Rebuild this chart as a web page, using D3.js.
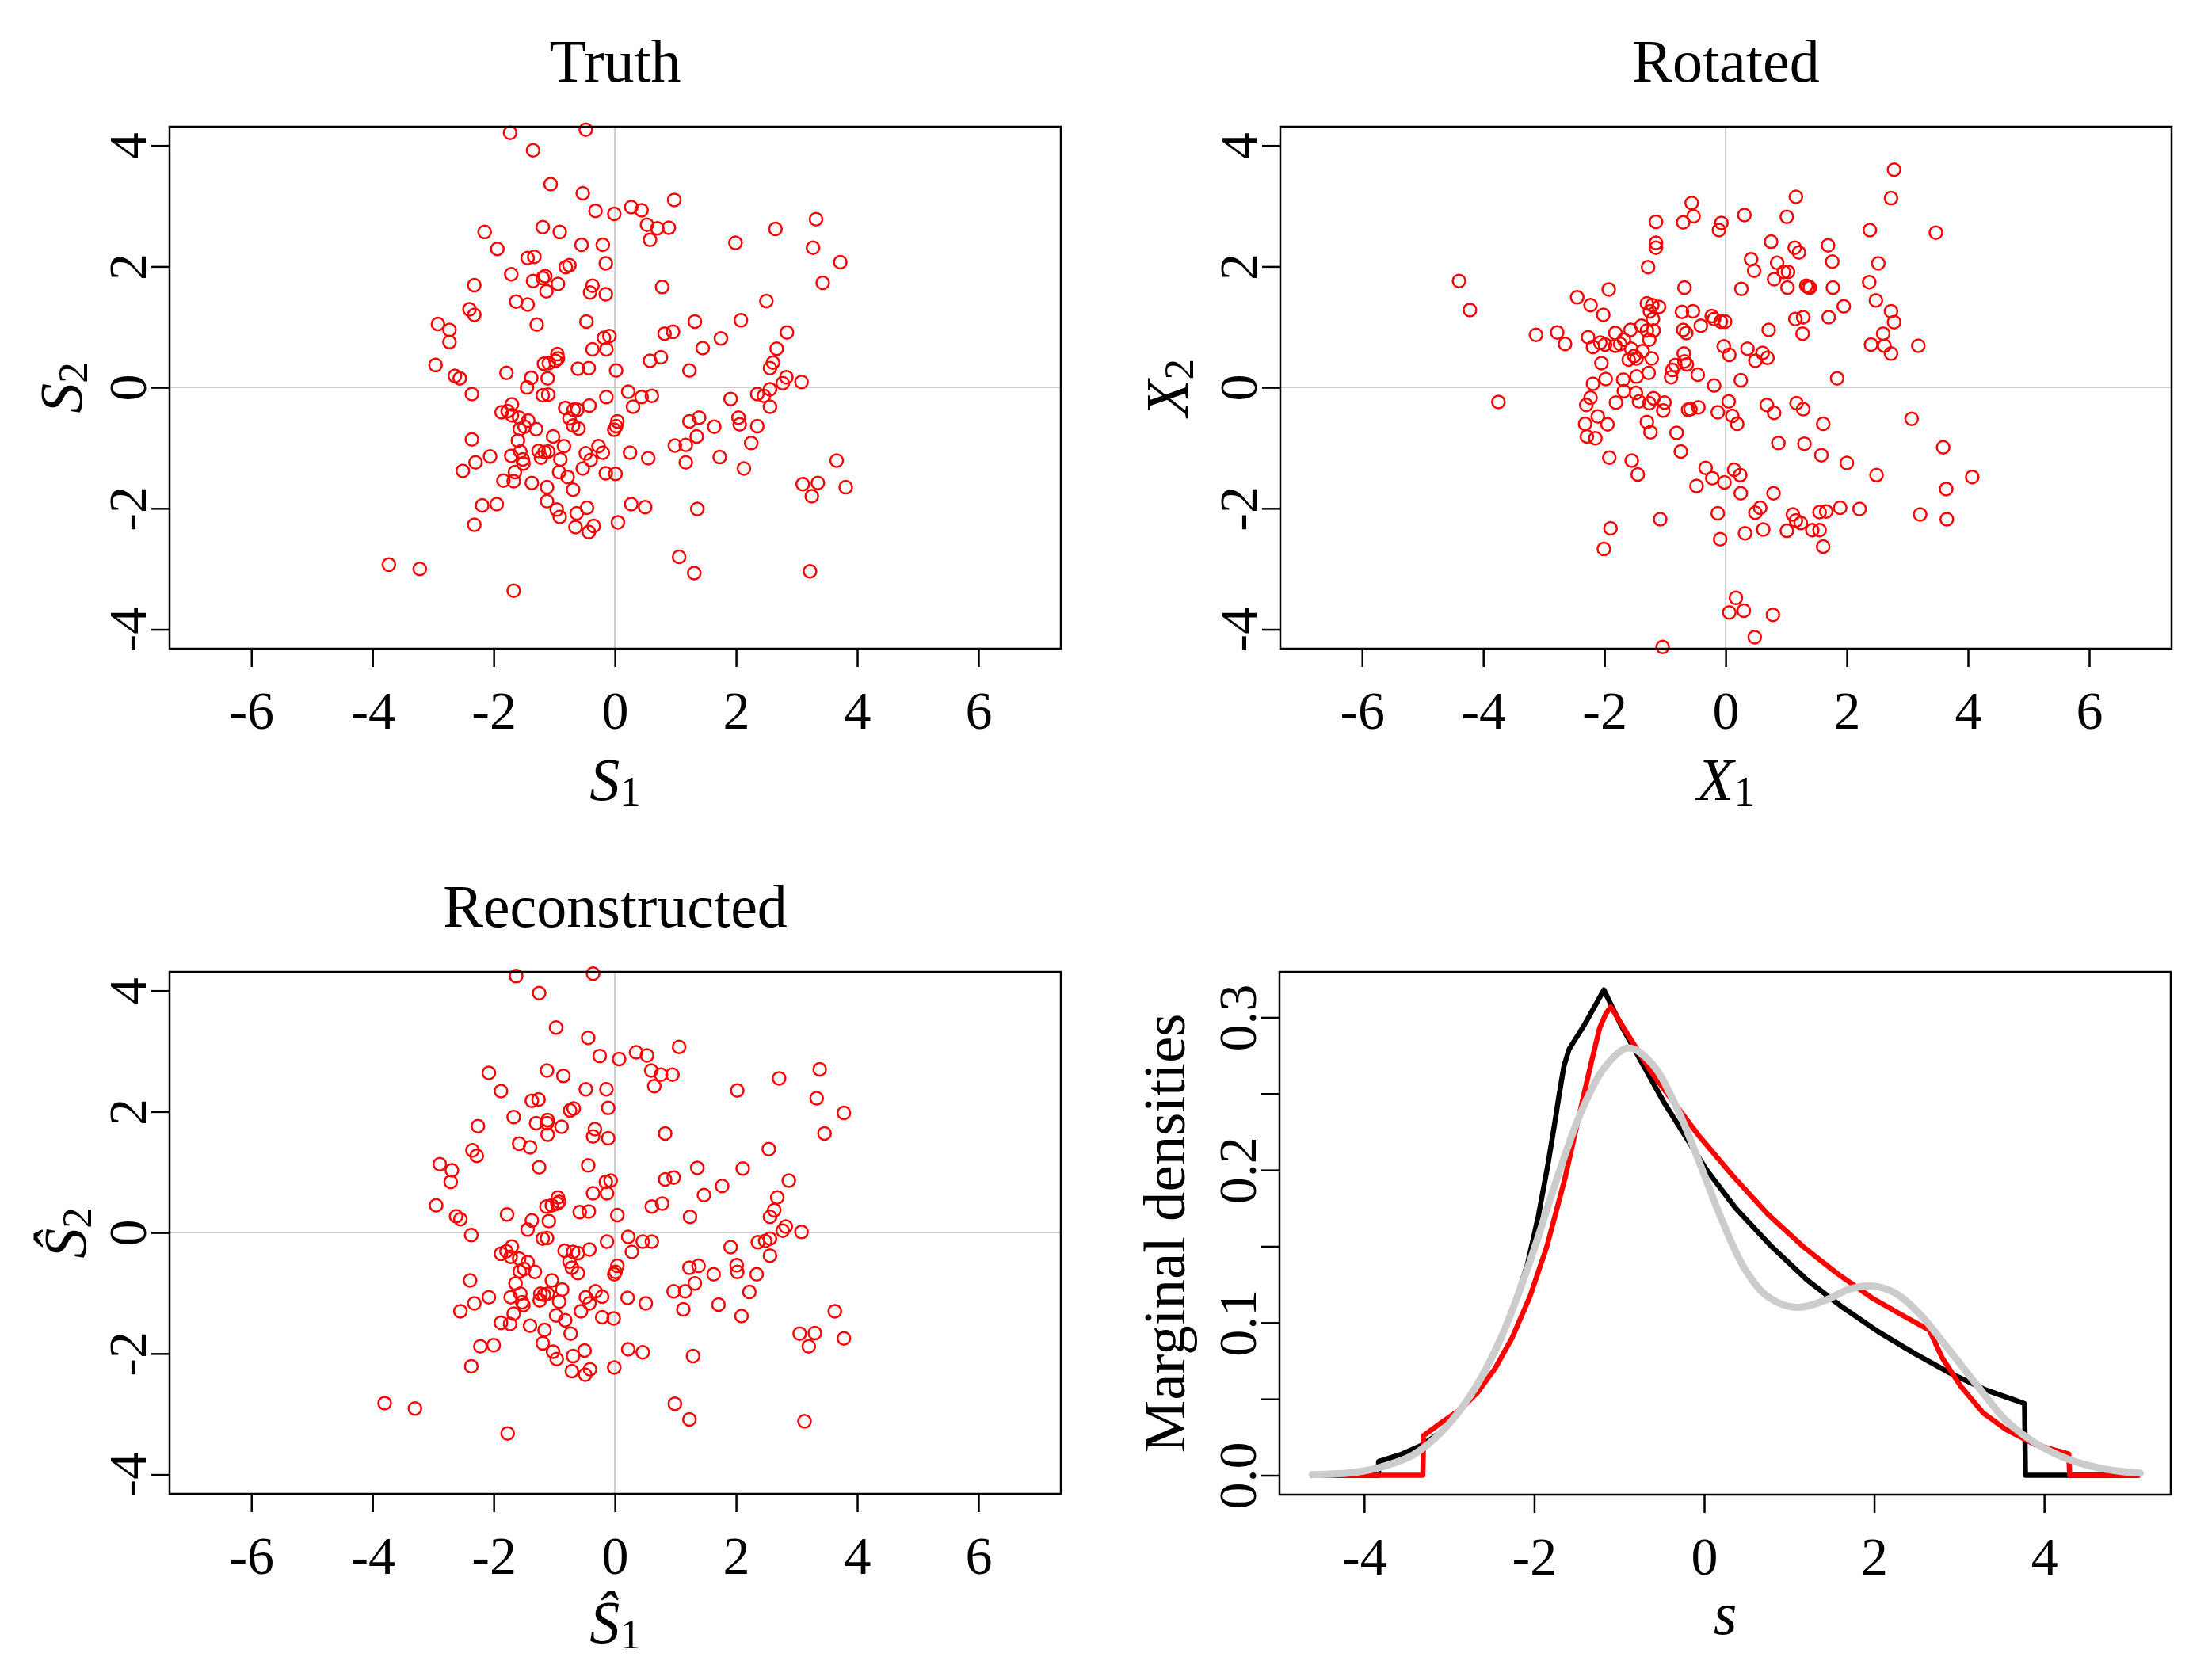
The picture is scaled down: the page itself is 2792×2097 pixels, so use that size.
<!DOCTYPE html>
<html lang="en">
<head>
<meta charset="UTF-8">
<title>Truth / Rotated / Reconstructed</title>
<script src="https://d3js.org/d3.v7.min.js"></script>
<style>
  body { margin: 0; background: #fff; }
  svg text { font-family: "Liberation Serif", "DejaVu Serif", serif; fill: #000; }
  .box { fill: none; stroke: #000; stroke-width: 2.5px; }
  .grid { stroke: #cccccc; stroke-width: 2px; }
  .pt { fill: none; stroke: #ff0000; stroke-width: 2.5px; }
  .axis path { display: none; }
  .axis line { stroke: #000; stroke-width: 2.5px; }
  .axis text { font-size: 68px; font-family: "Liberation Serif", serif; }
</style>
</head>
<body>
<svg id="chart" width="2792" height="2097"></svg>
<script>
// ---- data ----
const truthS1 = [-1.73,-0.48,-1.35,-1.06,-0.53,0.98,-0.32,-0.01,0.27,0.44,3.32,0.53,0.70,0.89,2.65,-2.15,-1.19,-0.91,0.58,1.99,-0.55,-0.20,-1.94,3.27,-1.44,-1.33,-0.15,3.72,-0.81,-0.75,-1.71,-1.19,-1.35,-1.15,-0.94,-0.37,-2.32,0.78,3.43,-1.13,-0.41,-0.15,-1.63,-1.44,2.50,-2.40,-2.32,-1.29,-0.47,1.32,2.08,-2.92,-2.73,-2.73,0.82,0.96,2.84,-0.18,-0.09,1.75,1.45,-0.37,-0.14,2.67,-0.95,-0.94,-0.98,-1.09,-1.17,0.58,0.76,2.61,-2.96,-0.61,-0.43,0.02,1.23,2.56,-2.64,-2.56,-1.79,-1.38,-1.11,2.83,2.77,3.08,-1.45,2.56,-2.36,-1.19,-1.10,-0.14,0.22,0.44,0.61,2.35,2.46,1.91,-1.70,-0.42,0.30,2.56,-1.87,-1.77,-1.70,-0.82,-0.68,-0.62,-1.58,-1.43,-0.75,0.04,1.23,1.39,2.04,2.06,-1.57,-1.49,-1.30,-0.69,-0.60,-0.01,0.02,1.64,2.35,-2.36,-1.60,-1.02,1.35,-0.84,-0.27,0.99,1.17,2.25,-2.06,-1.71,-1.56,-1.26,-1.16,-1.10,-1.52,-1.22,-0.90,-0.48,-0.40,-0.20,0.25,0.55,1.73,3.66,-2.30,-1.51,1.17,-2.51,-1.65,-0.92,-0.53,-0.15,0.01,2.13,-1.84,-1.67,-1.37,-0.78,3.10,3.35,3.81,-1.12,-0.69,3.25,-2.19,-1.95,-1.12,0.27,0.50,-0.46,1.36,-0.96,-0.63,-0.91,-2.32,-0.65,-0.35,-0.43,0.05,1.06,1.31,3.22,-3.73,-3.22,-1.67];
const truthS2 = [4.21,4.26,3.92,3.36,3.21,3.10,2.92,2.87,2.98,2.93,2.78,2.69,2.63,2.64,2.62,2.57,2.65,2.57,2.44,2.39,2.36,2.36,2.29,2.31,2.14,2.16,2.05,2.07,1.99,2.02,1.87,1.81,1.76,1.84,1.71,1.68,1.69,1.66,1.73,1.59,1.57,1.54,1.42,1.37,1.43,1.29,1.20,1.04,1.09,1.09,1.11,1.05,0.95,0.75,0.89,0.92,0.91,0.82,0.85,0.81,0.65,0.63,0.63,0.64,0.55,0.48,0.44,0.40,0.39,0.44,0.50,0.41,0.37,0.31,0.32,0.28,0.28,0.32,0.19,0.15,0.24,0.16,0.15,0.17,0.07,0.09,0.00,-0.03,-0.11,-0.13,-0.12,-0.16,-0.07,-0.16,-0.14,-0.11,-0.14,-0.19,-0.28,-0.30,-0.32,-0.32,-0.41,-0.39,-0.46,-0.34,-0.37,-0.37,-0.50,-0.55,-0.51,-0.56,-0.56,-0.50,-0.50,-0.61,-0.69,-0.65,-0.69,-0.63,-0.68,-0.70,-0.64,-0.65,-0.64,-0.86,-0.88,-0.81,-0.81,-0.97,-0.97,-0.96,-0.95,-0.92,-1.14,-1.13,-1.06,-1.05,-1.07,-1.06,-1.19,-1.16,-1.19,-1.09,-1.20,-1.08,-1.08,-1.17,-1.15,-1.21,-1.24,-1.26,-1.24,-1.38,-1.40,-1.40,-1.34,-1.42,-1.43,-1.34,-1.54,-1.55,-1.58,-1.48,-1.60,-1.58,-1.65,-1.65,-1.69,-1.80,-1.95,-1.93,-1.88,-1.93,-1.98,-1.99,-2.01,-2.02,-2.08,-2.14,-2.27,-2.31,-2.29,-2.39,-2.23,-2.80,-3.07,-3.04,-2.93,-3.00,-3.36];

const rotX1 = [2.78,1.16,2.73,-0.56,-0.53,0.31,1.01,-1.15,-0.70,-0.07,-0.11,2.38,3.47,0.75,-1.15,-1.15,1.14,1.21,1.69,0.42,0.47,1.76,2.52,0.85,-1.28,0.96,1.03,0.80,1.02,-4.40,2.37,1.33,1.36,1.39,1.77,0.26,-0.68,-1.93,-4.22,-2.45,-2.23,-2.02,1.95,2.48,2.73,2.78,-1.30,-1.21,-1.10,-1.25,-1.20,-0.72,-0.54,-0.23,-0.19,-0.08,-0.01,-0.41,1.15,1.28,1.70,1.27,0.71,2.60,2.40,2.62,2.73,3.18,-3.13,-2.78,-2.65,-2.27,-2.19,-2.07,-1.99,-1.82,-1.82,-1.74,-1.68,-1.57,-1.39,-1.30,-1.19,-1.26,-1.56,-1.37,-1.60,-1.51,-1.47,-1.22,-0.70,-0.65,-0.69,-0.68,-0.64,-0.83,-0.88,-0.90,-0.46,-0.03,0.06,0.36,0.61,0.69,0.49,0.25,1.84,-2.05,-1.98,-2.19,-1.69,-1.47,-1.27,-0.19,-3.75,-2.23,-2.30,-1.81,-1.68,-1.48,-1.43,-1.26,-1.19,-1.01,-1.03,-0.62,-0.58,-0.45,-0.13,0.05,0.11,0.19,0.68,0.80,1.17,1.28,1.61,3.07,-2.32,-2.11,-1.95,-2.29,-2.15,-1.30,-1.24,-0.81,-0.74,0.87,1.30,1.58,2.00,2.49,3.59,4.07,3.64,3.21,3.65,-1.92,-1.55,-1.45,-0.33,-0.22,-0.02,-0.48,0.14,0.24,0.25,0.79,0.57,0.49,-0.13,-1.08,-1.90,-2.01,-0.09,0.32,0.62,1.01,1.11,1.16,1.24,1.43,1.55,1.61,1.55,1.66,1.89,2.21,0.17,0.06,0.30,0.78,0.48,-1.04];
const rotX2 = [3.60,3.15,3.13,3.05,2.83,2.85,2.82,2.74,2.73,2.72,2.60,2.60,2.56,2.41,2.39,2.31,2.31,2.23,2.35,2.12,1.93,2.08,2.05,2.06,1.99,1.91,1.91,1.79,1.65,1.76,1.74,1.68,1.66,1.65,1.65,1.63,1.65,1.62,1.28,1.49,1.36,1.20,1.34,1.44,1.26,1.08,1.39,1.36,1.33,1.26,1.13,1.25,1.26,1.18,1.13,1.09,1.09,1.02,1.13,1.16,1.16,0.89,0.95,0.89,0.71,0.69,0.56,0.69,0.87,0.91,0.72,0.83,0.67,0.74,0.71,0.90,0.69,0.72,0.79,0.95,1.02,0.94,0.94,0.79,0.64,0.60,0.46,0.52,0.48,0.48,0.95,0.90,0.56,0.43,0.38,0.37,0.29,0.17,0.21,0.68,0.54,0.64,0.57,0.49,0.44,0.12,0.15,0.40,0.14,0.06,0.13,0.18,0.24,0.03,-0.24,-0.17,-0.29,-0.25,-0.06,-0.09,-0.23,-0.26,-0.18,-0.25,-0.38,-0.37,-0.36,-0.33,-0.41,-0.23,-0.47,-0.60,-0.29,-0.42,-0.26,-0.36,-0.60,-0.52,-0.60,-0.48,-0.61,-0.81,-0.84,-0.57,-0.74,-0.75,-1.06,-0.92,-0.93,-1.12,-1.25,-1.45,-0.99,-1.48,-1.68,-2.10,-2.18,-1.16,-1.21,-1.44,-1.33,-1.50,-1.57,-1.63,-1.36,-1.45,-1.75,-1.75,-1.99,-2.07,-2.08,-2.18,-2.33,-2.67,-2.51,-2.41,-2.35,-2.37,-2.10,-2.20,-2.24,-2.36,-2.36,-2.63,-2.06,-2.05,-1.99,-2.01,-3.48,-3.72,-3.69,-3.76,-4.13,-4.29];

const recS1 = [-1.63,-0.36,-1.25,-0.97,-0.44,1.06,-0.25,0.07,0.35,0.53,3.38,0.60,0.76,0.95,2.71,-2.08,-1.12,-0.85,0.65,2.02,-0.48,-0.14,-1.88,3.33,-1.37,-1.26,-0.11,3.78,-0.74,-0.68,-1.67,-1.12,-1.30,-1.11,-0.88,-0.33,-2.26,0.83,3.46,-1.11,-0.36,-0.11,-1.58,-1.40,2.54,-2.35,-2.28,-1.25,-0.44,1.36,2.11,-2.89,-2.69,-2.71,0.83,0.97,2.87,-0.15,-0.07,1.77,1.47,-0.36,-0.13,2.68,-0.94,-0.92,-0.95,-1.04,-1.13,0.61,0.78,2.63,-2.95,-0.58,-0.43,0.04,1.24,2.56,-2.62,-2.55,-1.78,-1.37,-1.09,2.82,2.77,3.08,-1.44,2.56,-2.37,-1.19,-1.12,-0.13,0.22,0.46,0.61,2.36,2.48,1.91,-1.70,-0.42,0.28,2.56,-1.88,-1.79,-1.72,-0.83,-0.69,-0.61,-1.58,-1.44,-0.75,0.04,1.23,1.38,2.01,2.02,-1.57,-1.50,-1.32,-0.71,-0.61,-0.01,0.01,1.63,2.34,-2.39,-1.64,-1.04,1.32,-0.87,-0.32,0.97,1.16,2.22,-2.08,-1.72,-1.56,-1.23,-1.17,-1.11,-1.53,-1.24,-0.92,-0.48,-0.42,-0.21,0.21,0.51,1.71,3.63,-2.32,-1.51,1.13,-2.55,-1.67,-0.97,-0.56,-0.21,-0.02,2.09,-1.88,-1.73,-1.40,-0.82,3.05,3.30,3.78,-1.16,-0.73,3.20,-2.22,-2.00,-1.19,0.22,0.46,-0.50,1.29,-1.02,-0.69,-0.96,-2.37,-0.71,-0.41,-0.49,-0.01,0.99,1.23,3.13,-3.80,-3.30,-1.77];
const recS2 = [4.24,4.28,3.96,3.39,3.22,3.07,2.92,2.87,2.98,2.93,2.70,2.68,2.61,2.61,2.55,2.64,2.68,2.59,2.42,2.35,2.37,2.37,2.34,2.22,2.18,2.20,2.06,1.98,2.02,2.05,1.91,1.81,1.81,1.86,1.75,1.71,1.76,1.64,1.64,1.62,1.59,1.56,1.47,1.41,1.38,1.36,1.27,1.08,1.11,1.07,1.06,1.13,1.03,0.84,0.88,0.91,0.86,0.84,0.86,0.77,0.62,0.65,0.65,0.58,0.58,0.51,0.48,0.45,0.43,0.43,0.48,0.37,0.45,0.34,0.35,0.29,0.26,0.26,0.27,0.22,0.30,0.20,0.19,0.10,0.03,0.01,0.05,-0.10,-0.04,-0.10,-0.09,-0.15,-0.07,-0.15,-0.15,-0.16,-0.14,-0.24,-0.23,-0.28,-0.32,-0.38,-0.35,-0.31,-0.40,-0.30,-0.32,-0.34,-0.43,-0.49,-0.48,-0.55,-0.58,-0.55,-0.54,-0.65,-0.64,-0.60,-0.65,-0.58,-0.67,-0.69,-0.65,-0.69,-0.69,-0.79,-0.84,-0.79,-0.84,-0.94,-0.97,-0.97,-0.97,-0.98,-1.07,-1.07,-1.01,-1.01,-1.03,-1.01,-1.15,-1.12,-1.14,-1.07,-1.17,-1.06,-1.08,-1.17,-1.19,-1.30,-1.17,-1.20,-1.27,-1.30,-1.34,-1.37,-1.30,-1.40,-1.42,-1.38,-1.49,-1.51,-1.54,-1.45,-1.67,-1.66,-1.75,-1.61,-1.67,-1.88,-1.88,-1.86,-1.83,-1.93,-1.98,-1.95,-2.04,-1.97,-2.04,-2.09,-2.21,-2.29,-2.26,-2.35,-2.23,-2.83,-3.09,-3.12,-2.82,-2.91,-3.32];

// marginal densities: true (black), estimated (red), kernel estimate (grey)
const trueX = [-4.63,-3.83,-3.83,-3.55,-3.31,-3.08,-2.87,-2.67,-2.46,-2.26,-2.08,-1.95,-1.84,-1.76,-1.71,-1.65,-1.59,-1.40,-1.18,-0.97,-0.72,-0.47,-0.22,0.03,0.37,0.79,1.21,1.63,2.05,2.47,2.89,3.31,3.77,3.78,5.11];
const trueY = [0,0,0.009,0.014,0.020,0.029,0.042,0.059,0.082,0.107,0.138,0.170,0.203,0.230,0.248,0.268,0.279,0.296,0.318,0.294,0.269,0.244,0.222,0.200,0.175,0.150,0.128,0.110,0.094,0.080,0.067,0.056,0.047,0,0];
const estX = [-4.63,-3.31,-3.30,-3.08,-2.87,-2.67,-2.46,-2.26,-2.05,-1.85,-1.64,-1.47,-1.33,-1.23,-1.16,-1.10,-0.89,-0.62,-0.34,-0.07,0.34,0.75,1.16,1.57,1.98,2.39,2.65,2.80,3.01,3.28,3.55,3.90,4.29,4.30,5.13];
const estY = [0,0,0.026,0.035,0.043,0.054,0.070,0.090,0.117,0.150,0.194,0.236,0.270,0.293,0.302,0.307,0.288,0.264,0.243,0.223,0.196,0.171,0.150,0.132,0.116,0.103,0.095,0.077,0.059,0.041,0.030,0.020,0.014,0,0];
const kdeX = [-4.61,-4.10,-3.76,-3.42,-3.08,-2.73,-2.39,-2.05,-1.71,-1.44,-1.16,-0.89,-0.62,-0.34,-0.07,0.21,0.48,0.75,1.09,1.44,1.71,1.98,2.26,2.53,2.87,3.21,3.55,3.90,4.31,4.72,5.13];
const kdeY = [0.0005,0.002,0.006,0.0135,0.029,0.054,0.090,0.140,0.198,0.239,0.268,0.280,0.270,0.243,0.207,0.167,0.135,0.117,0.110,0.115,0.122,0.124,0.119,0.106,0.083,0.059,0.036,0.021,0.010,0.004,0.0014];

const scatterTicks = [-6, -4, -2, 0, 2, 4, 6];
const scatterYTicks = [-4, -2, 0, 2, 4];
const densXTicks = [-4, -2, 0, 2, 4];
const densYTicks = [0, 0.05, 0.1, 0.15, 0.2, 0.25, 0.3];
const densYLabels = ["0.0", "", "0.1", "", "0.2", "", "0.3"];

// ---- drawing ----
const svg = d3.select("#chart");
svg.append("rect").attr("width", 2792).attr("height", 2097).attr("fill", "#fff");

const fmt = d => String(d); // plain hyphen minus like the LaTeX labels

function mathLabel(g, x, y, rot, base, sub, size) {
  const t = g.append("text")
    .attr("transform", `translate(${x},${y})` + (rot ? " rotate(-90)" : ""))
    .attr("text-anchor", "middle")
    .style("font-size", size + "px");
  t.append("tspan").style("font-style", "italic").text(base);
  if (sub) t.append("tspan").attr("dy", "0.14em").style("font-size", "0.7em").text(sub);
  return t;
}

function leftAxis(g, y, ticks, labels) {
  const ax = g.append("g").attr("class", "axis")
    .call(d3.axisLeft(y).tickValues(ticks).tickSize(23).tickFormat((d, i) => labels[i]));
  ax.selectAll("text")
    .attr("x", 0).attr("y", 0).attr("dy", 0)
    .attr("text-anchor", "middle")
    .attr("transform", "translate(-30,0) rotate(-90)");
  return ax;
}

function scatter(box, xs, ys, title, xlab, ylab) {
  const g = svg.append("g");
  const x = d3.scaleLinear().domain([-7.35, 7.36]).range([box.l, box.r]);
  const y = d3.scaleLinear().domain([-4.32, 4.31]).range([box.b, box.t]);

  g.append("line").attr("class", "grid")
    .attr("x1", x(0)).attr("x2", x(0)).attr("y1", box.t).attr("y2", box.b);
  g.append("line").attr("class", "grid")
    .attr("x1", box.l).attr("x2", box.r).attr("y1", y(0)).attr("y2", y(0));

  g.append("g").selectAll("circle")
    .data(d3.range(xs.length))
    .join("circle")
    .attr("class", "pt")
    .attr("cx", i => x(xs[i]))
    .attr("cy", i => y(ys[i]))
    .attr("r", 8);

  g.append("rect").attr("class", "box")
    .attr("x", box.l).attr("y", box.t)
    .attr("width", box.r - box.l).attr("height", box.b - box.t);

  g.append("g").attr("class", "axis")
    .attr("transform", `translate(0,${box.b})`)
    .call(d3.axisBottom(x).tickValues(scatterTicks).tickSize(23).tickPadding(30).tickFormat(fmt));
  g.append("g").attr("class", "axis")
    .attr("transform", `translate(${box.l},0)`)
    .call(gg => leftAxis(gg, y, scatterYTicks, scatterYTicks.map(fmt)));

  const cx = (box.l + box.r) / 2, cy = (box.t + box.b) / 2;
  g.append("text").attr("x", cx).attr("y", box.t - 57)
    .attr("text-anchor", "middle").style("font-size", "76px").text(title);
  mathLabel(g, cx, box.b + xlab.dy, false, xlab.base, xlab.sub, 76);
  mathLabel(g, box.l - ylab.dx, cy, true, ylab.base, ylab.sub, 76);
}

scatter({l: 214, r: 1339, t: 160, b: 819}, truthS1, truthS2, "Truth",
  {base: "S", sub: "1", dy: 191}, {base: "S", sub: "2", dx: 111});
scatter({l: 1616, r: 2741, t: 160, b: 819}, rotX1, rotX2, "Rotated",
  {base: "X", sub: "1", dy: 191}, {base: "X", sub: "2", dx: 117});
scatter({l: 214, r: 1339, t: 1227, b: 1886}, recS1, recS2, "Reconstructed",
  {base: "\u015C", sub: "1", dy: 188}, {base: "\u015C", sub: "2", dx: 106});

// density panel
(function () {
  const box = {l: 1615, r: 2740, t: 1227, b: 1887};
  const g = svg.append("g");
  const x = d3.scaleLinear().domain([-4.996, 5.49]).range([box.l, box.r]);
  const y = d3.scaleLinear().domain([-0.0127, 0.3298]).range([box.b, box.t]);
  const line = d3.line().x(d => x(d[0])).y(d => y(d[1]));

  g.append("path").datum(d3.zip(trueX, trueY))
    .attr("d", line).attr("fill", "none").attr("stroke", "#000")
    .attr("stroke-width", 6.5).attr("stroke-linejoin", "round");
  g.append("path").datum(d3.zip(estX, estY))
    .attr("d", line).attr("fill", "none").attr("stroke", "#ff0000")
    .attr("stroke-width", 6.5).attr("stroke-linejoin", "round");
  g.append("path").datum(d3.zip(kdeX, kdeY))
    .attr("d", line.curve(d3.curveCatmullRom)).attr("fill", "none").attr("stroke", "#cccccc")
    .attr("stroke-width", 9).attr("stroke-linecap", "round");

  g.append("rect").attr("class", "box")
    .attr("x", box.l).attr("y", box.t)
    .attr("width", box.r - box.l).attr("height", box.b - box.t);

  g.append("g").attr("class", "axis")
    .attr("transform", `translate(0,${box.b})`)
    .call(d3.axisBottom(x).tickValues(densXTicks).tickSize(23).tickPadding(30).tickFormat(fmt));
  g.append("g").attr("class", "axis")
    .attr("transform", `translate(${box.l},0)`)
    .call(gg => leftAxis(gg, y, densYTicks, densYLabels));

  const cx = (box.l + box.r) / 2, cy = (box.t + box.b) / 2;
  mathLabel(g, cx, box.b + 176, false, "s", null, 76);
  g.append("text")
    .attr("transform", `translate(${box.l - 120},${cy}) rotate(-90)`)
    .attr("text-anchor", "middle").style("font-size", "75px")
    .text("Marginal densities");
})();
</script>
</body>
</html>
